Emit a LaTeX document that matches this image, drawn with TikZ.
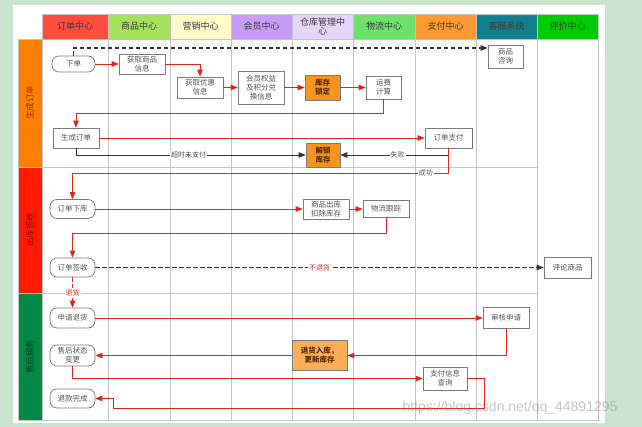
\documentclass[tikz,border=0pt]{standalone}
\usepackage{fontspec}
\setmainfont{Noto Sans CJK SC}
\newfontfamily\wmfont{Liberation Sans}
\usetikzlibrary{arrows.meta}

\definecolor{bggreen}{HTML}{C9E5CD}
\definecolor{gridgray}{HTML}{C4C4C4}
\definecolor{boxgray}{HTML}{7A7A7A}
\definecolor{boxtext}{HTML}{555555}
\definecolor{headtext}{HTML}{3A3A3A}
\definecolor{flowred}{HTML}{E2231A}
\definecolor{backblack}{HTML}{333333}
\definecolor{stockorange}{HTML}{F7941E}
\definecolor{returnorange}{HTML}{FDAF55}
\definecolor{stocktext}{HTML}{5A2A00}

\definecolor{hdorder}{HTML}{FF4D3D}
\definecolor{hdgoods}{HTML}{A6E35C}
\definecolor{hdmarket}{HTML}{FFFDCC}
\definecolor{hdmember}{HTML}{C59CF7}
\definecolor{hdstore}{HTML}{E6D4FD}
\definecolor{hdship}{HTML}{6EE06E}
\definecolor{hdpay}{HTML}{FF9933}
\definecolor{hdservice}{HTML}{127F8C}
\definecolor{hdreview}{HTML}{00CC00}

\definecolor{lnmake}{HTML}{FF8000}
\definecolor{lnmaketext}{HTML}{8A3F00}
\definecolor{lnout}{HTML}{FF1A00}
\definecolor{lnouttext}{HTML}{8A0C00}
\definecolor{lnafter}{HTML}{008A45}
\definecolor{lnaftertext}{HTML}{003A1C}

\begin{document}
\begin{tikzpicture}[
    x=1pt, y=-1pt,
    grid/.style={draw=gridgray, line width=0.9pt},
    headcell/.style={grid, minimum height=25pt, inner sep=0pt, text=headtext,
        font=\fontsize{9}{9.5}\selectfont, align=center},
    lanecell/.style={grid, rotate=90, minimum height=24pt, inner sep=0pt,
        font=\fontsize{8.5}{10}\selectfont},
    task/.style={draw=boxgray, fill=white, line width=0.7pt, text=boxtext,
        align=center, inner sep=1pt, font=\fontsize{7.5}{9}\selectfont},
    ctask/.style={task, rounded corners=7pt},
    stock/.style={task, fill=stockorange, text=stocktext,
        font=\bfseries\fontsize{7.5}{9}\selectfont},
    flow/.style={draw=flowred, line width=0.8pt, -{Triangle[length=7pt,width=5.5pt]}},
    back/.style={draw=backblack, line width=0.8pt, -{Triangle[length=7pt,width=5.5pt]}},
    maybe/.style={line width=1.1pt, dash pattern=on 4.5pt off 2.5pt},
    note/.style={fill=white, inner sep=1pt, text=boxtext, font=\fontsize{7}{8}\selectfont},
    rednote/.style={note, text=flowred},
]
    \useasboundingbox (0,0) rectangle (642,427);
    \fill [bggreen] (0,0) rectangle (642,427);
    \fill [white] (13,5) rectangle (605,423);

    % swimlane grid
    \draw [grid]
        (42,39) rectangle (598,420)
        (108,39) -- (108,420)
        (170,39) -- (170,420)
        (231,39) -- (231,420)
        (292,39) -- (292,420)
        (353,39) -- (353,420)
        (415,39) -- (415,420)
        (476,39) -- (476,420)
        (537,39) -- (537,420)
        (42,167) -- (537,167)
        (42,293) -- (537,293)
        ;

    % column heads
    \node [headcell, fill=hdorder, minimum width=66pt] (hOrder) at (75,26.5) {订单中心};
    \node [headcell, fill=hdgoods, minimum width=62pt] (hGoods) at (139,26.5) {商品中心};
    \node [headcell, fill=hdmarket, minimum width=61pt] (hMarket) at (200.5,26.5) {营销中心};
    \node [headcell, fill=hdmember, minimum width=61pt] (hMember) at (261.5,26.5) {会员中心};
    \node [headcell, fill=hdstore, minimum width=61pt] (hStore) at (322.5,26.5) {仓库管理中\\心};
    \node [headcell, fill=hdship, minimum width=62pt] (hShip) at (384,26.5) {物流中心};
    \node [headcell, fill=hdpay, minimum width=61pt] (hPay) at (445.5,26.5) {支付中心};
    \node [headcell, fill=hdservice, minimum width=61pt] (hService) at (506.5,26.5) {客服系统};
    \node [headcell, fill=hdreview, minimum width=61pt] (hReview) at (567.5,26.5) {评价中心};

    % row heads
    \node [lanecell, fill=lnmake, text=lnmaketext, minimum width=128pt] (lMake) at (30,103) {生成订单};
    \node [lanecell, fill=lnout, text=lnouttext, minimum width=126pt] (lOut) at (30,230) {出库签收};
    \node [lanecell, fill=lnafter, text=lnaftertext, minimum width=127pt] (lAfter) at (30,356.5) {售后服务};

    % lane 1
    \node [ctask, minimum width=43pt, minimum height=16pt] (placeOrder) at (73.5,64) {下单};
    \node [task, minimum width=46pt, minimum height=20pt] (goodsInfo) at (142,64) {获取商品\\信息};
    \node [task, minimum width=46pt, minimum height=21pt] (promoInfo) at (200,87.5) {获取优惠\\信息};
    \node [task, minimum width=46pt, minimum height=33pt] (memberInfo) at (261,87.5) {会员权益\\及积分兑\\换信息};
    \node [stock, minimum width=35pt, minimum height=25pt] (lockStock) at (322.5,87.5) {库存\\锁定};
    \node [task, minimum width=35pt, minimum height=23pt] (freight) at (383.5,87.5) {运费\\计算};
    \node [task, minimum width=35pt, minimum height=23pt] (consult) at (505.5,56.5) {商品\\咨询};
    \node [task, minimum width=46pt, minimum height=20pt] (makeOrder) at (76,138) {生成订单};
    \node [task, minimum width=47pt, minimum height=20pt] (payOrder) at (448.5,138) {订单支付};
    \node [stock, minimum width=34pt, minimum height=24pt] (unlockStock) at (323,155) {解锁\\库存};

    % lane 2
    \node [ctask, minimum width=45pt, minimum height=19pt] (outOrder) at (72.5,209) {订单下库};
    \node [task, minimum width=46pt, minimum height=20pt] (outGoods) at (326,209) {商品出库\\扣除库存};
    \node [task, minimum width=46pt, minimum height=17pt] (track) at (386,209) {物流跟踪};
    \node [ctask, minimum width=45pt, minimum height=19pt] (signOrder) at (72.5,267.5) {订单签收};
    \node [task, minimum width=47pt, minimum height=21pt] (review) at (567.5,267.5) {评论商品};

    % lane 3
    \node [ctask, minimum width=45pt, minimum height=20pt] (applyReturn) at (72.5,318) {申请退货};
    \node [task, minimum width=46pt, minimum height=21pt] (audit) at (506,318) {审核申请};
    \node [stock, fill=returnorange, minimum width=55pt, minimum height=30pt] (restock) at (319.5,355.5) {退货入库，\\更新库存};
    \node [ctask, minimum width=45pt, minimum height=21pt] (afterState) at (72.5,355.5) {售后状态\\变更};
    \node [task, minimum width=44pt, minimum height=23pt] (payQuery) at (445,378.5) {支付信息\\查询};
    \node [ctask, minimum width=45pt, minimum height=19pt] (refundDone) at (72.5,398.5) {退款完成};

    % connectors, lane 1
    \draw [back, maybe]
        (placeOrder.north)
        |- ([yshift=8.5pt]consult.west)
        ;
    \draw [flow] (placeOrder.east) -- (placeOrder.east -| goodsInfo.west);
    \draw [flow] (goodsInfo.east) -| (promoInfo.north);
    \draw [flow] (promoInfo) -- (memberInfo);
    \draw [flow] (memberInfo) -- (lockStock);
    \draw [flow] (lockStock) -- (freight);
    \draw [flow]
        (freight.south)
        -- ++(0,14)
        -| (makeOrder.north)
        ;
    \draw [flow] (makeOrder) -- (payOrder);
    \draw [back]
        (makeOrder.south)
        |- (unlockStock.west)
            node [note, pos=0.745] {超时未支付}
        ;
    \draw [back]
        (payOrder.south)
        |- (unlockStock.east)
            node [note, pos=0.735] {失败}
        ;
    \draw [flow]
        (payOrder.south)
        -- ++(0,25)
        -| (outOrder.north)
            node [note, pos=0.03] {成功}
        ;

    % connectors, lane 2
    \draw [flow] (outOrder) -- (outGoods);
    \draw [flow] (outGoods) -- (track);
    \draw [flow]
        (track.south)
        -- ++(0,16)
        -| (signOrder.north)
        ;
    \draw [back, maybe]
        (signOrder)
        -- (review)
            node [rednote, pos=0.5] {不退货}
        ;
    \draw [flow, maybe, line width=0.8pt]
        (signOrder)
        -- (applyReturn)
            node [rednote, pos=0.5] {退货}
        ;

    % connectors, lane 3
    \draw [flow] (applyReturn) -- (audit);
    \draw [flow]
        (audit.south)
        |- (restock.east)
        ;
    \draw [flow] (restock) -- (afterState);
    \draw [flow]
        (afterState.south)
        |- (payQuery.west)
        ;
    \draw [flow]
        (payQuery.east)
        -- ++(17,0)
        -- ++(0,29.5)
        -| ([xshift=18pt]refundDone.east)
        -- (refundDone.east)
        ;

    \node [text=gray, opacity=0.45, font=\wmfont\fontsize{14}{14}\selectfont] (mark) at (510,408) {https://blog.csdn.net/qq\_44891295};
\end{tikzpicture}
\end{document}
